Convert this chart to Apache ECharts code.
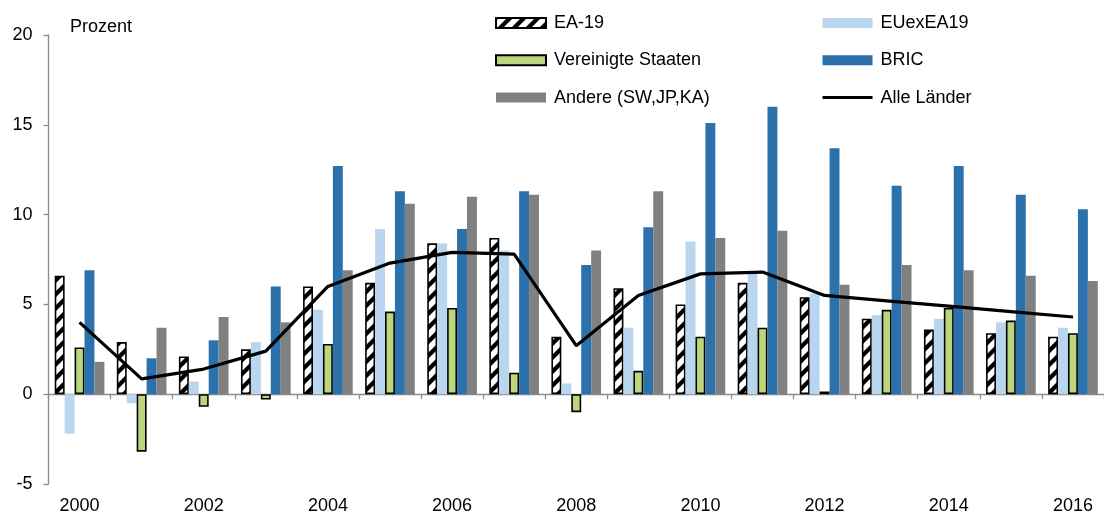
<!DOCTYPE html>
<html>
<head>
<meta charset="utf-8">
<script src="https://cdn.jsdelivr.net/npm/echarts@6/dist/echarts.min.js"></script>
<style>
html,body{margin:0;padding:0;background:#fff;}
#chart{width:1104px;height:515px;}
</style>
</head>
<body>
<div id="chart"></div>
<script>
// ---- data ----
var years = ['2000','2001','2002','2003','2004','2005','2006','2007','2008','2009','2010','2011','2012','2013','2014','2015','2016'];
var ea19   = [6.6, 2.9, 2.1, 2.5, 6.0, 6.2, 8.4, 8.7, 3.2, 5.9, 5.0, 6.2, 5.4, 4.2, 3.6, 3.4, 3.2];
var euex   = [-2.2, -0.5, 0.7, 2.9, 4.7, 9.2, 8.4, 8.0, 0.6, 3.7, 8.5, 6.7, 5.6, 4.4, 4.2, 4.0, 3.7];
var us     = [2.6, -3.2, -0.7, -0.3, 2.8, 4.6, 4.8, 1.2, -1.0, 1.3, 3.2, 3.7, 0.15, 4.7, 4.8, 4.1, 3.4];
var bric   = [6.9, 2.0, 3.0, 6.0, 12.7, 11.3, 9.2, 11.3, 7.2, 9.3, 15.1, 16.0, 13.7, 11.6, 12.7, 11.1, 10.3];
var andere = [1.8, 3.7, 4.3, 4.0, 6.9, 10.6, 11.0, 11.1, 8.0, 11.3, 8.7, 9.1, 6.1, 7.2, 6.9, 6.6, 6.3];
var alle   = [4.0, 0.85, 1.4, 2.4, 6.0, 7.3, 7.9, 7.8, 2.7, 5.5, 6.7, 6.8, 5.5, 5.2, 4.9, 4.6, 4.3];
var yTicks = [-5, 0, 5, 10, 15, 20];

// ---- stripe pattern for EA-19 ----
var pc = document.createElement('canvas');
pc.width = 14; pc.height = 14;
var g = pc.getContext('2d');
g.fillStyle = '#ffffff'; g.fillRect(0,0,14,14);
g.strokeStyle = '#000000'; g.lineWidth = 4.2;
[0,14,28].forEach(function(c){
  g.beginPath(); g.moveTo(c-20,20); g.lineTo(c+20,-20); g.stroke();
});
var stripe = {image: pc, repeat: 'repeat'};

var FONT = "'Liberation Sans', Arial, sans-serif";
var FS = 18;
var AX = '#8c8c8c';
var legendText = {fontSize: FS, lineHeight: 20, color: '#000', fontFamily: FONT, padding: [0,0,0,3]};

var chart = echarts.init(document.getElementById('chart'), null, {renderer:'canvas'});
var option = {
  animation: false,
  backgroundColor: '#ffffff',
  textStyle: {fontFamily: FONT},
  grid: {left: 48.5, right: -7, top: 35, bottom: 30, containLabel: false},
  graphic: [{
    type: 'text', left: 70, top: 18.5,
    style: {text: 'Prozent', font: FS + 'px ' + FONT, fill: '#000'}
  }],
  legend: [{
    orient: 'vertical', left: 495, top: 13, padding: 0,
    itemWidth: 50, itemHeight: 10, itemGap: 17.3,
    textStyle: legendText,
    data: [{name:'EA-19', icon:'rect'}, {name:'Vereinigte Staaten', icon:'rect'}, {name:'Andere (SW,JP,KA)', icon:'rect'}]
  },{
    orient: 'vertical', left: 822.5, top: 13, padding: 0,
    itemWidth: 50, itemHeight: 10, itemGap: 17.3,
    textStyle: legendText,
    data: [{name:'EUexEA19', icon:'rect'}, {name:'BRIC', icon:'rect'}]
  },{
    orient: 'vertical', left: 822.5, top: 87.6, padding: 0,
    itemWidth: 50, itemHeight: 3,
    textStyle: legendText,
    data: [{name:'Alle Länder', icon:'rect'}]
  }],
  xAxis: [{
    type: 'category', data: years, position: 'bottom',
    axisLine: {onZero: true, lineStyle: {color: AX, width: 1.3}},
    axisTick: {show: true, length: 5, lineStyle: {color: AX, width: 1.3}},
    axisLabel: {show: false},
    splitLine: {show: false}
  },{
    type: 'category', data: years, position: 'bottom',
    axisLine: {show: false, onZero: false},
    axisTick: {show: false},
    axisLabel: {show: true, interval: 1, margin: 13, fontSize: FS, color: '#000', fontFamily: FONT},
    splitLine: {show: false}
  }],
  yAxis: {
    type: 'value', min: -5, max: 20, interval: 5,
    axisLine: {show: true, onZero: false, lineStyle: {color: AX, width: 1.3}},
    axisTick: {show: true, length: 5, lineStyle: {color: AX, width: 1.3}},
    axisLabel: {fontSize: FS, color: '#000', margin: 16, fontFamily: FONT,
      formatter: function(v){ return yTicks.indexOf(v) >= 0 ? String(v) : ''; }},
    splitLine: {show: false}
  },
  series: [{
    name: 'EA-19', type: 'bar', data: ea19, barGap: '0%', barCategoryGap: '20%',
    itemStyle: {color: stripe, borderColor: '#000', borderWidth: 1.6}
  },{
    name: 'EUexEA19', type: 'bar', data: euex,
    itemStyle: {color: '#b9d6ee'}
  },{
    name: 'Vereinigte Staaten', type: 'bar', data: us,
    itemStyle: {color: '#bbd67c', borderColor: '#000', borderWidth: 1.6}
  },{
    name: 'BRIC', type: 'bar', data: bric,
    itemStyle: {color: '#2b72ad'}
  },{
    name: 'Andere (SW,JP,KA)', type: 'bar', data: andere,
    itemStyle: {color: '#808080'}
  },{
    name: 'Alle Länder', type: 'line', data: alle, symbol: 'none', showSymbol: false,
    lineStyle: {color: '#000', width: 3.2}, itemStyle: {color: '#000'}, z: 5
  }]
};
chart.setOption(option);
</script>
</body>
</html>
